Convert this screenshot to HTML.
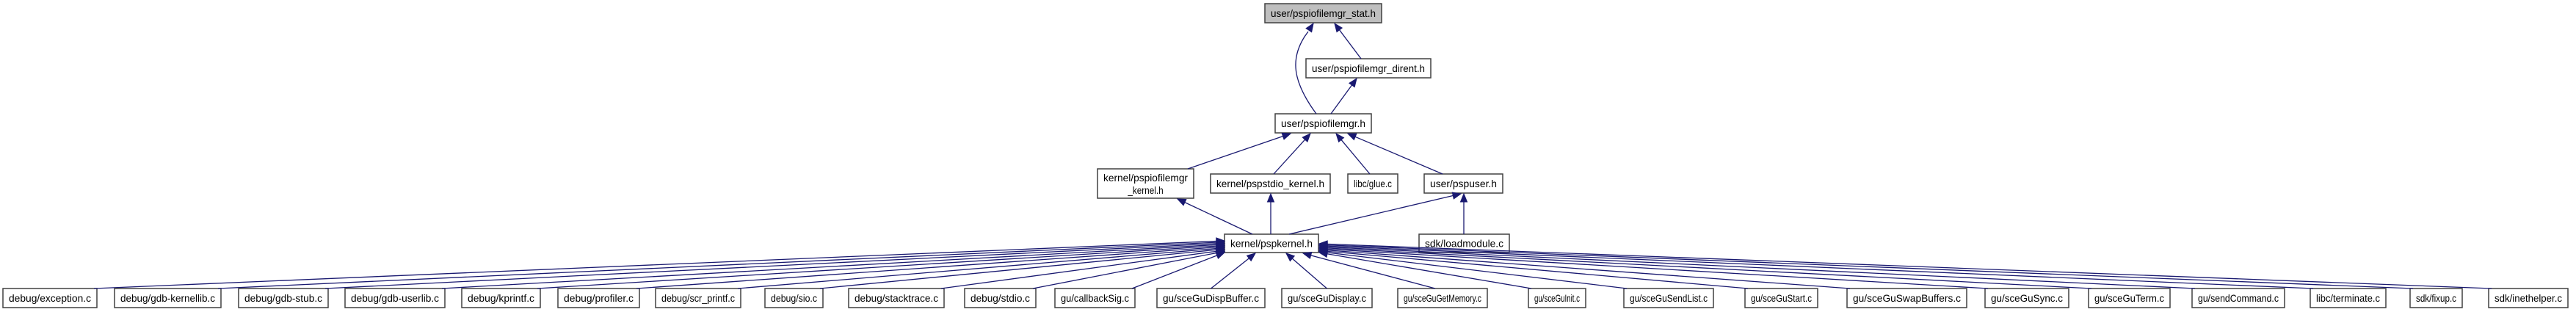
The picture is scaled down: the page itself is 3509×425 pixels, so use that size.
<!DOCTYPE html>
<html><head><meta charset="utf-8"><style>
html,body{margin:0;padding:0;background:#fff;width:3509px;height:425px;overflow:hidden}
svg text{font-family:"Liberation Sans",Arial,sans-serif;font-size:14px;fill:#000}
</style></head><body>
<svg id="g" xmlns="http://www.w3.org/2000/svg" width="3509" height="425" viewBox="0 0 3509 425"></svg>
<script>
const S=document.getElementById('g');
let out='';
const C='#191970';
function txt(x,y,s,w){
  out+=`<text x="${x}" y="${y}" text-anchor="middle" textLength="${w}" lengthAdjust="spacingAndGlyphs">${s}</text>`;
}
function box(x1,y1,x2,y2,lines,fill){
  out+=`<rect x="${x1}" y="${y1}" width="${x2-x1}" height="${y2-y1}" fill="${fill||'#fff'}" stroke="#404040" stroke-width="1.5"/>`;
  const cx=(x1+x2)/2, cy=(y1+y2)/2, w=x2-x1-16;
  if(lines.length==1) txt(cx,cy+5,lines[0],w);
  else { txt(cx,cy-3,lines[0],w); txt(cx,cy+14,lines[1],w*0.42); }
}
function arrowHead(px,py,tx,ty){
  const dx=tx-px, dy=ty-py, L=Math.hypot(dx,dy), ux=dx/L, uy=dy/L;
  const bx=tx-ux*11, by=ty-uy*11, nx=-uy*4.5, ny=ux*4.5;
  out+=`<polygon points="${tx},${ty} ${bx+nx},${by+ny} ${bx-nx},${by-ny}" fill="${C}" stroke="${C}"/>`;
}
function edge(sx,sy,tx,ty){
  const dx=tx-sx, dy=ty-sy, L=Math.hypot(dx,dy);
  const ex=tx-dx/L*10, ey=ty-dy/L*10;
  out+=`<line x1="${sx}" y1="${sy}" x2="${ex}" y2="${ey}" stroke="${C}" stroke-width="1.3"/>`;
  arrowHead(sx,sy,tx,ty);
}
box(1723,5,1882,31,['user/pspiofilemgr_stat.h'],'#bfbfbf');
box(1779,80,1949,106,['user/pspiofilemgr_dirent.h']);
box(1737,155,1868,181,['user/pspiofilemgr.h']);
box(1495,230,1626,270,['kernel/pspiofilemgr','_kernel.h']);
box(1649,237,1812,263,['kernel/pspstdio_kernel.h']);
box(1836,237,1904,263,['libc/glue.c']);
box(1940,237,2047,263,['user/pspuser.h']);
box(1668,319,1796,344,['kernel/pspkernel.h']);
box(1933,319,2056,344,['sdk/loadmodule.c']);
out+=`<path d="M1793,155 C1760,110 1758,80 1777,50 L1782,43" fill="none" stroke="${C}" stroke-width="1.3"/>`;
arrowHead(1779,47,1789,32);
edge(1854,80,1818,32);
edge(1813,155,1848,107);
edge(1618,230,1758,182);
edge(1735,237,1785,182);
edge(1866,237,1820,182);
edge(1965,237,1836,182);
edge(1706,319,1604,271);
edge(1731,319,1731,264);
edge(1756,319,1990,264);
edge(1994,319,1994,264);
const B=[[4,132,'debug/exception.c'],[156,301,'debug/gdb-kernellib.c'],[325,447,'debug/gdb-stub.c'],[470,606,'debug/gdb-userlib.c'],
[629,736,'debug/kprintf.c'],[760,871,'debug/profiler.c'],[893,1009,'debug/scr_printf.c'],[1042,1121,'debug/sio.c'],
[1156,1286,'debug/stacktrace.c'],[1314,1411,'debug/stdio.c'],[1437,1546,'gu/callbackSig.c'],[1576,1723,'gu/sceGuDispBuffer.c'],
[1746,1869,'gu/sceGuDisplay.c'],[1904,2026,'gu/sceGuGetMemory.c'],[2082,2160,'gu/sceGuInit.c'],[2212,2334,'gu/sceGuSendList.c'],
[2377,2476,'gu/sceGuStart.c'],[2516,2679,'gu/sceGuSwapBuffers.c'],[2704,2818,'gu/sceGuSync.c'],[2845,2956,'gu/sceGuTerm.c'],
[2986,3112,'gu/sendCommand.c'],[3147,3250,'libc/terminate.c'],[3283,3354,'sdk/fixup.c'],[3390,3498,'sdk/inethelper.c']];
B.forEach((b,i)=>{
  box(b[0],393,b[1],419,[b[2]]);
  const cx=(b[0]+b[1])/2;
  let sx,tx,ty;
  if(b[1]<1560){ sx=b[1]-4; tx=1668; ty=328+(i/10)*16; if(ty>344)ty=344; }
  else if(cx<1732 && cx>1560){ sx=cx; tx=1710; ty=345; }
  else if(cx>1732 && cx<1830){ sx=cx; tx=1752; ty=345; }
  else if(cx<2100){ sx=cx-10; tx=1775; ty=345; }
  else { sx=b[0]+4; tx=1797; const k=(i-14)/9; ty=344-k*12; }
  edge(sx,393,tx,ty);
});
S.innerHTML=out;
</script>
</body></html>
